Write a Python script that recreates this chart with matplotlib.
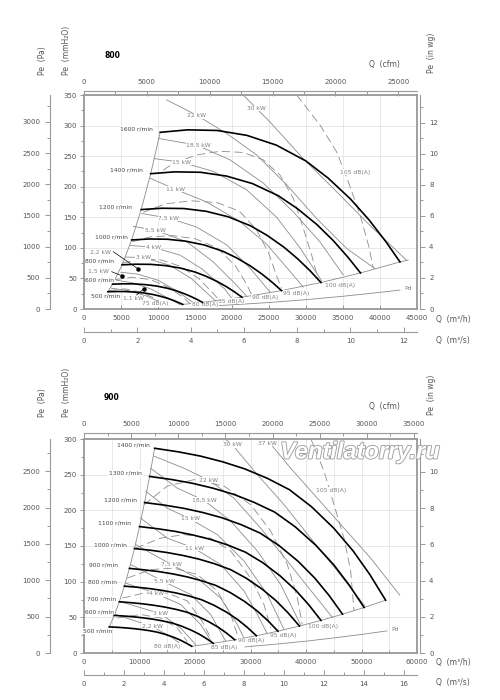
import matplotlib
matplotlib.use('Agg')
import matplotlib.pyplot as plt
import matplotlib.patheffects as pe
from matplotlib.ticker import MultipleLocator

# ================= fan 800  (Q in m3/h, Pe in mmH2O) =================
speeds_800 = ['1600', '1400', '1200', '1000', '800', '600', '500']
sq_800 = [
    [10300, 14000, 18000, 22000, 26000, 30000, 33000, 36000, 38500, 40800, 42700],
    [9012, 12250, 15750, 19250, 22750, 26250, 28875, 31500, 33688, 35700, 37363],
    [7725, 10500, 13500, 16500, 19500, 22500, 24750, 27000, 28875, 30600, 32025],
    [6438, 8750, 11250, 13750, 16250, 18750, 20625, 22500, 24063, 25500, 26688],
    [5150, 7000, 9000, 11000, 13000, 15000, 16500, 18000, 19250, 20400, 21350],
    [3863, 5250, 6750, 8250, 9750, 11250, 12375, 13500, 14438, 15300, 16013],
    [3219, 4375, 5625, 6875, 8125, 9375, 10313, 11250, 12031, 12750, 13344],
]
sp_800 = [
    [289, 293, 292, 284, 268, 242, 214, 180, 146, 110, 77],
    [221.3, 224.3, 223.6, 217.4, 205.2, 185.3, 163.8, 137.8, 111.8, 84.2, 59.0],
    [162.6, 164.8, 164.3, 159.8, 150.8, 136.1, 120.4, 101.3, 82.1, 61.9, 43.3],
    [112.9, 114.5, 114.1, 110.9, 104.7, 94.5, 83.6, 70.3, 57.0, 43.0, 30.1],
    [72.25, 73.25, 73, 71, 67, 60.5, 53.5, 45, 36.5, 27.5, 19.25],
    [40.6, 41.2, 41.1, 39.9, 37.7, 34.0, 30.1, 25.3, 20.5, 15.5, 10.8],
    [28.2, 28.6, 28.5, 27.7, 26.2, 23.6, 20.9, 17.6, 14.3, 10.7, 7.5],
]
stall_q_800 = [3219, 3863, 5150, 6438, 7725, 9012, 10300]
stall_p_800 = [28.2, 40.6, 72.25, 112.9, 162.6, 221.3, 289]
bound_q_800 = [13344, 16013, 21350, 26688, 32025, 37363, 42700, 43800]
bound_p_800 = [7.5, 10.8, 19.25, 30.1, 43.3, 59, 77, 80]
pd_q_800 = [16500, 20000, 25000, 30000, 35000, 40000, 42700]
pd_p_800 = [4.6, 6.8, 10.6, 15.3, 20.8, 27.2, 31]

power_800 = ['30 kW', '22 kW', '18,5 kW', '15 kW', '11 kW', '7,5 kW', '5,5 kW',
             '4 kW', '3 kW', '2,2 kW', '1,5 kW', '1,1 kW']
pwq_800 = [
    [21520, 25120, 29620, 34120, 38620, 43570],
    [11170, 15220, 19280, 23330, 27390, 31440, 35500, 39330],
    [10050, 15220, 19720, 24220, 28270, 31870, 35020],
    [9460, 13200, 17480, 21980, 26040, 29190, 32120],
    [8920, 12300, 16580, 21080, 24680, 27380, 29620],
    [7790, 11390, 15220, 19270, 22420, 25120],
    [6670, 9590, 13870, 17470, 20620, 21970],
    [6200, 9370, 13000, 16000, 19000, 20000],
    [5600, 8020, 11500, 14500, 17000, 17800],
    [5000, 7300, 10000, 12500, 14800],
    [4400, 6500, 9000, 11500, 13000],
    [3700, 6000, 8500, 10500, 11500],
]
pwp_800 = [
    [350, 306, 246, 192, 137, 80],
    [342, 317, 287, 252, 203, 148, 99, 66],
    [279, 268, 244, 206, 159, 110, 56],
    [246, 240, 225, 195, 150, 100, 46],
    [214, 196, 175, 143, 106, 68, 36],
    [156, 149, 134, 105, 67, 28],
    [135, 129, 110, 77, 39, 21],
    [104, 101, 88, 65, 33, 17],
    [85, 84, 72, 50, 22, 13],
    [60, 57, 47, 30, 10],
    [47, 43, 33, 17, 7],
    [34, 30, 21, 10, 5],
]
noise_800 = ['105 dB(A)', '100 dB(A)', '95 dB(A)', '90 dB(A)', '85 dB(A)', '80 dB(A)', '75 dB(A)']
nzq_800 = [
    [28740, 31890, 34140, 35720, 37300, 38430, 39100],
    [10680, 12070, 15220, 18380, 21530, 24230, 26490, 28290, 29640, 30770, 31670],
    [8000, 11000, 14500, 18000, 21000, 23300, 25000, 26000, 26700],
    [6500, 9000, 12000, 15000, 18000, 20500, 22000, 22700],
    [5200, 8000, 10500, 13000, 15500, 17500, 18300],
    [4200, 6500, 9000, 11500, 13500, 14300],
    [3400, 5500, 7500, 9500, 10500],
]
nzp_800 = [
    [350, 301, 257, 208, 154, 105, 67],
    [227, 238, 252, 258, 256, 244, 219, 181, 132, 88, 47],
    [158, 172, 177, 174, 160, 130, 90, 55, 34],
    [110, 118, 120, 115, 100, 70, 40, 22],
    [75, 82, 80, 70, 50, 25, 14],
    [48, 52, 48, 35, 18, 9],
    [30, 33, 28, 18, 8],
]
dot_q_800 = [7340, 5090, 8110]
dot_p_800 = [65.4, 54.5, 33.2]

# ================= fan 900 =================
speeds_900 = ['1400', '1300', '1200', '1100', '1000', '900', '800', '700', '600', '500']
sq_900 = [
    [12730, 17000, 21000, 25000, 29000, 33000, 37000, 41000, 45000, 48500, 51500, 54350],
    [11821, 15786, 19500, 23214, 26929, 30643, 34357, 38071, 41786, 45036, 47821, 50468],
    [10911, 14571, 18000, 21429, 24857, 28286, 31714, 35143, 38571, 41571, 44143, 46586],
    [10002, 13357, 16500, 19643, 22786, 25929, 29071, 32214, 35357, 38107, 40464, 42704],
    [9093, 12143, 15000, 17857, 20714, 23571, 26429, 29286, 32143, 34643, 36786, 38821],
    [8184, 10929, 13500, 16071, 18643, 21214, 23786, 26357, 28929, 31179, 33107, 34939],
    [7274, 9714, 12000, 14286, 16571, 18857, 21143, 23429, 25714, 27714, 29429, 31057],
    [6365, 8500, 10500, 12500, 14500, 16500, 18500, 20500, 22500, 24250, 25750, 27175],
    [5456, 7286, 9000, 10714, 12429, 14143, 15857, 17571, 19286, 20786, 22071, 23293],
    [4546, 6071, 7500, 8929, 10357, 11786, 13214, 14643, 16071, 17321, 18393, 19411],
]
sp_900 = [
    [287, 282, 276, 268, 258, 245, 229, 205, 175, 143, 110, 74],
    [247.5, 243.2, 238.0, 231.1, 222.5, 211.2, 197.5, 176.8, 150.9, 123.3, 94.8, 63.8],
    [210.9, 207.2, 202.8, 196.9, 189.6, 180.0, 168.2, 150.6, 128.6, 105.1, 80.8, 54.4],
    [177.2, 174.1, 170.4, 165.4, 159.3, 151.3, 141.4, 126.6, 108.0, 88.3, 67.9, 45.7],
    [146.4, 143.9, 140.8, 136.7, 131.6, 125.0, 116.8, 104.6, 89.3, 73.0, 56.1, 37.8],
    [118.6, 116.5, 114.1, 110.8, 106.6, 101.3, 94.6, 84.7, 72.3, 59.1, 45.5, 30.6],
    [93.7, 92.1, 90.1, 87.5, 84.2, 80.0, 74.8, 66.9, 57.1, 46.7, 35.9, 24.2],
    [71.8, 70.5, 69, 67, 64.5, 61.3, 57.3, 51.3, 43.8, 35.8, 27.5, 18.5],
    [52.7, 51.8, 50.7, 49.2, 47.4, 45.0, 42.1, 37.7, 32.1, 26.3, 20.2, 13.6],
    [36.6, 36.0, 35.2, 34.2, 32.9, 31.3, 29.2, 26.1, 22.3, 18.2, 14.0, 9.4],
]
stall_q_900 = [4546, 5456, 6365, 7274, 8184, 9093, 10002, 10911, 11821, 12730]
stall_p_900 = [36.6, 52.7, 71.8, 93.7, 118.6, 146.4, 177.2, 210.9, 247.5, 287]
bound_q_900 = [19411, 23293, 27175, 31057, 34939, 38821, 42704, 46586, 50468, 54350]
bound_p_900 = [9.4, 13.6, 18.5, 24.2, 30.6, 37.8, 45.7, 54.4, 63.8, 74]
pd_q_900 = [29000, 35000, 40000, 45000, 50000, 54600]
pd_p_900 = [8.5, 12.7, 16.6, 21.1, 26, 31]

power_900 = ['37 kW', '30 kW', '22 kW', '18,5 kW', '15 kW', '11 kW', '7,5 kW',
             '5,5 kW', '4 kW', '3 kW', '2,2 kW']
pwq_900 = [
    [31830, 33630, 37240, 42040, 46850, 51650, 56900],
    [25230, 26730, 31230, 36040, 40840, 45650, 50600],
    [12610, 18020, 22520, 27030, 31830, 36640, 41440, 44740],
    [12010, 16820, 21620, 26430, 31230, 35440, 39000],
    [11110, 15010, 19100, 24020, 28830, 33030, 36040],
    [10210, 15010, 19820, 24620, 28830, 31230, 33030],
    [9310, 15740, 20420, 24620, 27630, 28800],
    [8410, 14410, 19220, 22820, 25500],
    [7510, 13090, 17420, 21020, 23120],
    [6610, 13810, 17420, 20200],
    [5710, 12310, 15620, 17500],
]
pwp_900 = [
    [301, 293, 259, 217, 175, 133, 81],
    [301, 292, 250, 208, 161, 115, 66],
    [276, 259, 242, 217, 175, 129, 82, 50],
    [259, 231, 214, 185, 143, 96, 40],
    [227, 203, 188, 166, 129, 82, 33],
    [189, 161, 147, 124, 87, 54, 27],
    [152, 124, 105, 77, 40, 21],
    [124, 100, 82, 54, 17],
    [98, 83, 68, 40, 14],
    [72, 55, 35, 11],
    [54, 37, 23, 12],
]
noise_900 = ['105 dB(A)', '100 dB(A)', '95 dB(A)', '90 dB(A)', '85 dB(A)', '80 dB(A)']
nzq_900 = [
    [40840, 43240, 45050, 46850, 48050, 48650],
    [10810, 15010, 19820, 25230, 30030, 33630, 36640, 38440, 39340],
    [9310, 13810, 18020, 22820, 26430, 30030, 32430, 33630],
    [7810, 12010, 16220, 20420, 24020, 26430, 27630],
    [6910, 10810, 15010, 18620, 21320, 22820],
    [6010, 10210, 13810, 16820, 18620],
]
nzp_900 = [
    [301, 255, 208, 161, 115, 59],
    [208, 234, 243, 234, 208, 171, 124, 77, 40],
    [147, 161, 166, 161, 143, 105, 68, 35],
    [105, 117, 119, 110, 87, 54, 26],
    [77, 84, 84, 73, 44, 21],
    [49, 54, 49, 35, 16],
]

# ---------- label placement (data coords) ----------
spd_xy_800 = [(7120, 294), (5770, 227), (4190, 167), (3740, 118), (2160, 78), (2160, 47), (2970, 21)]
pw_xy_800 = [(23330, 328), (15230, 316), (15450, 268), (13200, 240), (12300, 196), (11400, 149),
             (9600, 129), (9370, 101), (8020, 84), (2160, 92), (1940, 62), (6670, 17)]
nz_xy_800 = [(36620, 224), (34600, 39), (28740, 26), (24460, 18.6), (19950, 13), (16350, 6.6), (9600, 8.3)]
lead_from_800 = [(3960, 93.7), (3740, 61), (7120, 22.9)]
pd_xy_800 = (43830, 32.8)

spd_xy_900 = [(8890, 292), (7510, 252), (6610, 215), (5530, 182), (4800, 151), (3600, 124),
              (3300, 99), (3120, 76), (2880, 57), (2400, 30.5)]
pw_xy_900 = [(33100, 294), (26730, 292), (22520, 242), (21620, 214), (19100, 188), (19820, 147),
             (15740, 124), (14410, 100.5), (13090, 83), (13810, 55), (12310, 37.5)]
nz_xy_900 = [(44440, 228), (43120, 37), (35920, 24), (30030, 17.3), (25230, 8), (15020, 9.5)]
pd_xy_900 = (56000, 33.6)

GRAY = '#8c8c8c'
TXT = '#555555'
W, H = 500, 700

fig = plt.figure(figsize=(5, 7), dpi=100)


def px(x, y):
    return x / W, 1 - y / H


def tag(ax, x, y, s, color='#808080'):
    ax.text(x, y, s, fontsize=4.3, color=color, ha='center', va='center', zorder=3,
            bbox=dict(facecolor='white', edgecolor='none', pad=0.3))


def side_spine(a, which, offset):
    for k in ['top', 'right', 'bottom', 'left']:
        a.spines[k].set_visible(k == which)
    a.spines[which].set_position(('outward', offset))
    a.spines[which].set_color('#999999')
    a.spines[which].set_linewidth(0.8)


def make_axes(top, xmax, ymax, xmajor, xminor, cfm_out, s_out):
    ax = fig.add_axes([84 / W, 1 - (top + 214) / H, 333 / W, 214 / H])
    ax.set_xlim(0, xmax)
    ax.set_ylim(0, ymax)
    ax.xaxis.set_major_locator(MultipleLocator(xmajor))
    ax.xaxis.set_minor_locator(MultipleLocator(xminor))
    ax.yaxis.set_major_locator(MultipleLocator(50))
    ax.yaxis.set_minor_locator(MultipleLocator(25))
    ax.set_axisbelow(True)
    ax.xaxis.grid(True, which='both', color='#e4e4e4', lw=0.6)
    ax.yaxis.grid(True, which='major', color='#e4e4e4', lw=0.6)
    for s in ax.spines.values():
        s.set_color('#999999')
        s.set_linewidth(1.3)
    ax.tick_params(axis='x', which='both', direction='in', labelsize=5, labelcolor=TXT,
                   color='#888888', width=0.6, pad=4.5)
    ax.tick_params(axis='x', which='major', length=3)
    ax.tick_params(axis='x', which='minor', length=2)
    ax.tick_params(axis='y', which='both', direction='out', labelsize=5, labelcolor=TXT,
                   color='#888888', width=0.6, pad=2)
    ax.tick_params(axis='y', which='major', length=3)
    ax.tick_params(axis='y', which='minor', length=2)

    # Pa scale, far left
    a = ax.twinx()
    a.set_ylim(0, ymax * 9.80665)
    a.yaxis.tick_left()
    side_spine(a, 'left', 24.5)
    a.yaxis.set_major_locator(MultipleLocator(500))
    a.yaxis.set_minor_locator(MultipleLocator(250))
    a.tick_params(which='both', direction='out', labelsize=5, labelcolor=TXT,
                  color='#888888', width=0.6, pad=3.5)
    a.tick_params(which='minor', length=2)

    # in wg, right
    b = ax.twinx()
    b.set_ylim(0, ymax / 25.4)
    side_spine(b, 'right', 2.2)
    b.yaxis.set_major_locator(MultipleLocator(2))
    b.yaxis.set_minor_locator(MultipleLocator(1))
    b.tick_params(which='both', direction='out', labelsize=5, labelcolor=TXT,
                  color='#888888', width=0.6, pad=3)
    b.tick_params(which='minor', length=2)

    # cfm, top
    c = ax.twiny()
    c.set_xlim(0, xmax / 1.699)
    side_spine(c, 'top', cfm_out)
    c.xaxis.set_major_locator(MultipleLocator(5000))
    c.xaxis.set_minor_locator(MultipleLocator(2500))
    c.tick_params(which='both', direction='in', labelsize=5, labelcolor=TXT,
                  color='#888888', width=0.6, pad=4)
    c.tick_params(which='minor', length=2)

    # m3/s, bottom
    d = ax.twiny()
    d.set_xlim(0, xmax / 3600)
    d.xaxis.tick_bottom()
    side_spine(d, 'bottom', s_out)
    d.xaxis.set_major_locator(MultipleLocator(2))
    d.xaxis.set_minor_locator(MultipleLocator(1))
    d.tick_params(which='both', direction='in', labelsize=5, labelcolor=TXT,
                  color='#888888', width=0.6, pad=4)
    d.tick_params(which='minor', length=2)

    ax.set_zorder(5)
    ax.patch.set_visible(False)
    return ax


def draw_fan(ax, names, sq, sp, stq, stp, bq, bp, pdq, pdp, pw, pwq, pwp, nz, nzq, nzp,
             spd_xy, pw_xy, nz_xy, pd_xy):
    for q, p in zip(pwq, pwp):
        ax.plot(q, p, color=GRAY, lw=0.6, zorder=2)
    for q, p in zip(nzq, nzp):
        ax.plot(q, p, color=GRAY, lw=0.6, dashes=(10, 5), zorder=2)
    ax.plot(stq, stp, color=GRAY, lw=0.6, zorder=2)
    ax.plot(bq, bp, color=GRAY, lw=0.6, zorder=2)
    ax.plot(pdq, pdp, color=GRAY, lw=0.6, zorder=2)
    for q, p in zip(sq, sp):
        ax.plot(q, p, color='black', lw=1.2, zorder=4, solid_joinstyle='round')
    for n, (x, y) in zip(names, spd_xy):
        tag(ax, x, y, n + ' r/min', color='#444444')
    for s, (x, y) in zip(pw, pw_xy):
        tag(ax, x, y, s)
    for s, (x, y) in zip(nz, nz_xy):
        tag(ax, x, y, s)
    tag(ax, pd_xy[0], pd_xy[1], 'Pd')


def frame_text(dy, title):
    kw = dict(fontsize=5.5, color=TXT)
    fig.text(*px(42, 75 + dy), 'Pe  (Pa)', rotation=90, ha='center', va='bottom', **kw)
    fig.text(*px(67, 75 + dy), 'Pe  (mmH\u2082O)', rotation=90, ha='center', va='bottom', **kw)
    fig.text(*px(432, 73 + dy), 'Pe  (in wg)', rotation=90, ha='center', va='bottom', **kw)
    fig.text(*px(384, 65 + dy), 'Q  (cfm)', ha='center', va='center', **kw)
    fig.text(*px(436, 320 + dy), 'Q  (m\u00b3/h)', ha='left', va='center', **kw)
    fig.text(*px(436, 341 + dy), 'Q  (m\u00b3/s)', ha='left', va='center', **kw)
    fig.text(*px(112, 55 + dy), title, ha='center', va='center', fontsize=5.5,
             fontweight='bold', color='black')


# ---- 800 ----
ax1 = make_axes(95, 45000, 350, 5000, 5000, 2.9, 16.6)
draw_fan(ax1, speeds_800, sq_800, sp_800, stall_q_800, stall_p_800, bound_q_800, bound_p_800,
         pd_q_800, pd_p_800, power_800, pwq_800, pwp_800, noise_800, nzq_800, nzp_800,
         spd_xy_800, pw_xy_800, nz_xy_800, pd_xy_800)
for (x0, y0), x1, y1 in zip(lead_from_800, dot_q_800, dot_p_800):
    ax1.plot([x0, x1], [y0, y1], color='black', lw=0.5, zorder=4)
ax1.plot(dot_q_800, dot_p_800, 'o', color='black', ms=2.2, zorder=5)
frame_text(0, '800')

# ---- 900 ----
ax2 = make_axes(439, 60000, 300, 10000, 5000, 4.3, 15.8)
draw_fan(ax2, speeds_900, sq_900, sp_900, stall_q_900, stall_p_900, bound_q_900, bound_p_900,
         pd_q_900, pd_p_900, power_900, pwq_900, pwp_900, noise_900, nzq_900, nzp_900,
         spd_xy_900, pw_xy_900, nz_xy_900, pd_xy_900)
frame_text(342, '900')

# watermark
fig.text(*px(360, 452), 'Ventilatorry.ru', ha='center', va='center', fontsize=17,
         family='Liberation Sans', fontweight='bold', fontstyle='italic', color='white',
         zorder=20, path_effects=[pe.withStroke(linewidth=1.3, foreground='#a0a0a0')])

fig.savefig('out.png', dpi=100)
